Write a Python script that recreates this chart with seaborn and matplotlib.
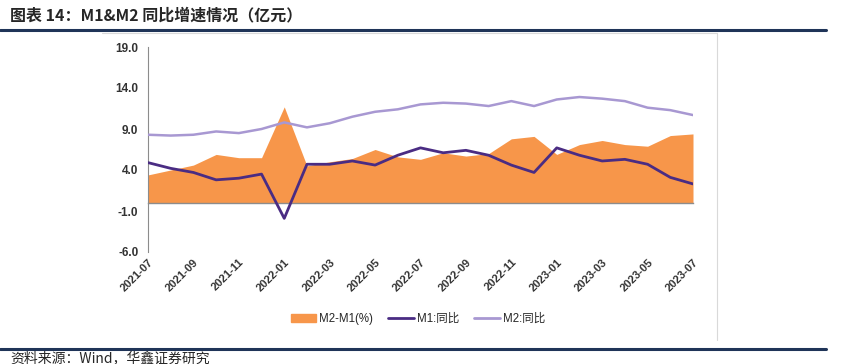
import numpy as np
import pandas as pd
import matplotlib
matplotlib.use("Agg")
import matplotlib.pyplot as plt
from matplotlib.patches import Patch
from matplotlib.lines import Line2D
import seaborn as sns

months = ["2021-07", "2021-08", "2021-09", "2021-10", "2021-11", "2021-12",
          "2022-01", "2022-02", "2022-03", "2022-04", "2022-05", "2022-06",
          "2022-07", "2022-08", "2022-09", "2022-10", "2022-11", "2022-12",
          "2023-01", "2023-02", "2023-03", "2023-04", "2023-05", "2023-06",
          "2023-07"]
m1 = [4.9, 4.2, 3.7, 2.8, 3.0, 3.5, -1.9, 4.7, 4.7, 5.1, 4.6, 5.8,
      6.7, 6.1, 6.4, 5.8, 4.6, 3.7, 6.7, 5.8, 5.1, 5.3, 4.7, 3.1, 2.3]
m2 = [8.3, 8.2, 8.3, 8.7, 8.5, 9.0, 9.8, 9.2, 9.7, 10.5, 11.1, 11.4,
      12.0, 12.2, 12.1, 11.8, 12.4, 11.8, 12.6, 12.9, 12.7, 12.4, 11.6, 11.3, 10.7]
gap = [3.4, 4.0, 4.6, 5.9, 5.5, 5.5, 11.7, 4.5, 5.0, 5.4, 6.5, 5.6,
       5.3, 6.1, 5.7, 6.0, 7.8, 8.1, 5.9, 7.1, 7.6, 7.1, 6.9, 8.2, 8.4]
yticks = [-6.0, -1.0, 4.0, 9.0, 14.0, 19.0]

df = pd.DataFrame({"month": months, "M1": m1, "M2": m2, "gap": gap})
df["i"] = np.arange(len(df))

sns.set_style("white")
plt.rcParams["font.family"] = ["Liberation Sans", "Noto Sans CJK SC", "DejaVu Sans"]

ORANGE = "#F7964A"
DARK = "#4A2C83"
LIGHT = "#A898D2"

fig = plt.figure(figsize=(8.44, 3.64), dpi=100)
ax = fig.add_axes([148 / 844, 1 - 252 / 364, 545 / 844, 205 / 364])

ax.fill_between(df["i"], 0, df["gap"], color=ORANGE, linewidth=0, zorder=1)
sns.lineplot(data=df, x="i", y="M2", color=LIGHT, linewidth=1.8, ax=ax, zorder=3)
sns.lineplot(data=df, x="i", y="M1", color=DARK, linewidth=2.0, ax=ax, zorder=4)

ax.set_xlim(0, len(df) - 1)
ax.set_ylim(-6, 19)
ax.set_xlabel("")
ax.set_ylabel("")

for s in ["top", "right"]:
    ax.spines[s].set_visible(False)
ax.spines["left"].set_color("#8C8C8C")
ax.spines["left"].set_linewidth(0.8)
ax.spines["bottom"].set_position(("data", 0))
ax.spines["bottom"].set_color("#8C8C8C")
ax.spines["bottom"].set_linewidth(1.0)
ax.spines["bottom"].set_zorder(2)
ax.tick_params(axis="y", direction="out", length=3, color="#8C8C8C", pad=4)
ax.tick_params(axis="x", direction="out", length=3, color="#8C8C8C", pad=36)

ax.set_yticks(yticks)
ax.set_yticklabels([f"{v:.1f}" for v in yticks])
ax.set_xticks(df["i"][::2])
ax.set_xticklabels(df["month"][::2])
plt.setp(ax.get_yticklabels(), fontsize=8.5, fontweight="bold", color="#333333")
plt.setp(ax.get_xticklabels(), rotation=45, ha="right", rotation_mode="anchor",
         fontsize=8, fontweight="bold", color="#333333")

handles = [Patch(color=ORANGE, label="M2-M1(%)"),
           Line2D([], [], color=DARK, linewidth=2, label="M1:同比"),
           Line2D([], [], color=LIGHT, linewidth=2, label="M2:同比")]
fig.legend(handles=handles, loc="center", bbox_to_anchor=(418 / 844, 1 - 319 / 364),
           ncol=3, frameon=False, fontsize=8.3, handlelength=2.2,
           handletextpad=0.3, columnspacing=1.3)

# title, rules and frame
fig.text(10 / 844, 1 - 15 / 364, "图表 14：M1&M2 同比增速情况（亿元）", fontsize=11.5,
         fontweight="bold", va="center", ha="left",
         family=["Noto Sans CJK SC", "DejaVu Sans"])
fig.text(10 / 844, 1 - 358 / 364, "资料来源：Wind，华鑫证券研究", fontsize=10,
         va="center", ha="left", family=["Noto Sans CJK SC", "DejaVu Sans"])
fig.add_artist(Line2D([0, 826 / 844], [1 - 30 / 364] * 2, color="#1F3458", linewidth=2.2))
fig.add_artist(Line2D([0, 826 / 844], [1 - 349 / 364] * 2, color="#1F3458", linewidth=2.2))
fig.add_artist(Line2D([102 / 844, 717 / 844], [1 - 33 / 364] * 2, color="#D9D9D9", linewidth=0.8))
fig.add_artist(Line2D([717 / 844] * 2, [1 - 33 / 364, 1 - 340 / 364], color="#D9D9D9", linewidth=0.8))

fig.savefig("out.png", dpi=100)
